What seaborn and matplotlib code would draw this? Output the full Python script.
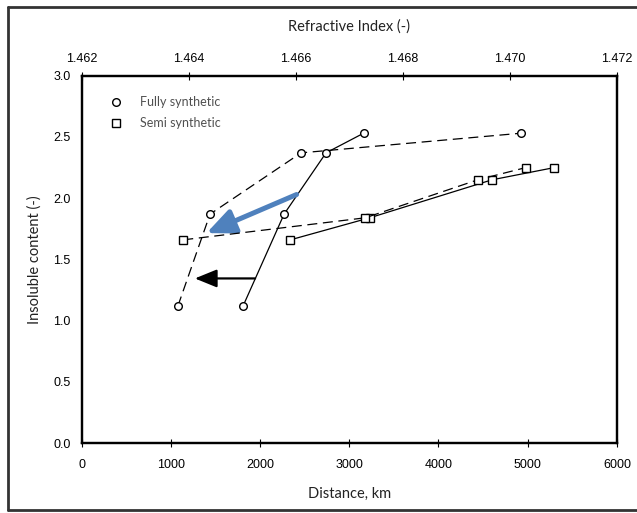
import matplotlib
matplotlib.use("Agg")
import matplotlib.pyplot as plt
import matplotlib.patheffects as pe
from matplotlib.lines import Line2D
import seaborn as sns

# data
dist_full = [1810, 2270, 2740, 3160]       # km, solid line, bottom axis
ri_full = [1.4638, 1.4644, 1.4661, 1.4702]  # refractive index, dashed line, top axis
ins_full = [1.12, 1.87, 2.37, 2.53]

dist_semi = [2340, 3230, 4600, 5300]
ri_semi = [1.4639, 1.4673, 1.4694, 1.4703]
ins_semi = [1.66, 1.84, 2.15, 2.25]

x_ticks = [0, 1000, 2000, 3000, 4000, 5000, 6000]
ri_ticks = [1.462, 1.464, 1.466, 1.468, 1.470, 1.472]
y_ticks = [0.0, 0.5, 1.0, 1.5, 2.0, 2.5, 3.0]

sns.set_theme(style="white")
plt.rcParams['font.family'] = ['Liberation Sans', 'DejaVu Sans']

fig = plt.figure(figsize=(6.37, 5.13), dpi=100)
ax = fig.add_axes([0.128, 0.136, 0.8405, 0.7165])
ax2 = ax.twiny()

mk = dict(markersize=5.5, markerfacecolor='white', markeredgecolor='black',
          markeredgewidth=1.0, color='black', linewidth=0.9)

# solid lines against distance
sns.lineplot(x=dist_full, y=ins_full, sort=False, marker='o', ax=ax, **mk)
sns.lineplot(x=dist_semi, y=ins_semi, sort=False, marker='s', ax=ax, **mk)

# dashed lines against refractive index
sns.lineplot(x=ri_full, y=ins_full, sort=False, marker='o', ax=ax2,
             dashes=False, linestyle=(0, (8, 4.5)), **mk)
sns.lineplot(x=ri_semi, y=ins_semi, sort=False, marker='s', ax=ax2,
             dashes=False, linestyle=(0, (8, 4.5)), **mk)

ax.set_xlim(0, 6000)
ax.set_ylim(0, 3.0)
ax2.set_xlim(1.462, 1.472)
ax.set_xticks(x_ticks)
ax.set_yticks(y_ticks)
ax.set_yticklabels([f"{v:.1f}" for v in y_ticks])
ax2.set_xticks(ri_ticks)
ax2.set_xticklabels([f"{v:.3f}" for v in ri_ticks])

for a in (ax, ax2):
    for s in a.spines.values():
        s.set_linewidth(1.6)
        s.set_color('black')
    a.tick_params(direction='inout', length=6, width=0.8, labelsize=9,
                  colors='black', pad=5)
    for t in a.get_xticklabels() + a.get_yticklabels():
        t.set_family(['Liberation Sans', 'DejaVu Sans'])
ax.tick_params(axis='x', pad=8)

lab = dict(family=['Lato', 'DejaVu Sans'], fontsize=10.5, color='#222222')
ax.set_xlabel('Distance, km', labelpad=12, **lab)
ax.set_ylabel('Insoluble content (-)', labelpad=8, **lab)
ax2.set_xlabel('Refractive Index (-)', labelpad=16, **lab)

# arrows
ax.annotate('', xy=(1400, 1.715), xytext=(2410, 2.03),
            arrowprops=dict(arrowstyle='-|>,head_length=1.7,head_width=0.75',
                            mutation_scale=10, color='#4F81BD', lw=3.6,
                            shrinkA=0, shrinkB=0,
                            path_effects=[pe.SimplePatchShadow(offset=(1.5, -1.5), alpha=0.3),
                                          pe.Normal()]))
ax.annotate('', xy=(1270, 1.345), xytext=(1945, 1.345),
            arrowprops=dict(arrowstyle='-|>,head_length=1.35,head_width=0.55',
                            mutation_scale=10, color='black', lw=1.6,
                            shrinkA=0, shrinkB=0))

handles = [Line2D([], [], marker='o', linestyle='none', markersize=5.5,
                  markerfacecolor='white', markeredgecolor='black'),
           Line2D([], [], marker='s', linestyle='none', markersize=5.5,
                  markerfacecolor='white', markeredgecolor='black')]
leg = ax.legend(handles, ['Fully synthetic', 'Semi synthetic'], loc='upper left',
                bbox_to_anchor=(0.02, 0.975), frameon=False, handletextpad=0.9,
                labelspacing=0.75, prop=dict(family=['Lato', 'DejaVu Sans'], size=9))
for t in leg.get_texts():
    t.set_color('#505050')

# outer frame of the original screenshot
fc = '#333333'
fig.add_artist(Line2D([0.0126, 0.0126], [0.005, 0.987], color=fc, lw=2, transform=fig.transFigure))
fig.add_artist(Line2D([0.0126, 1.0], [0.987, 0.987], color=fc, lw=2, transform=fig.transFigure))
fig.add_artist(Line2D([0.0126, 1.0], [0.005, 0.005], color=fc, lw=2, transform=fig.transFigure))

fig.savefig('out.png', dpi=100)
